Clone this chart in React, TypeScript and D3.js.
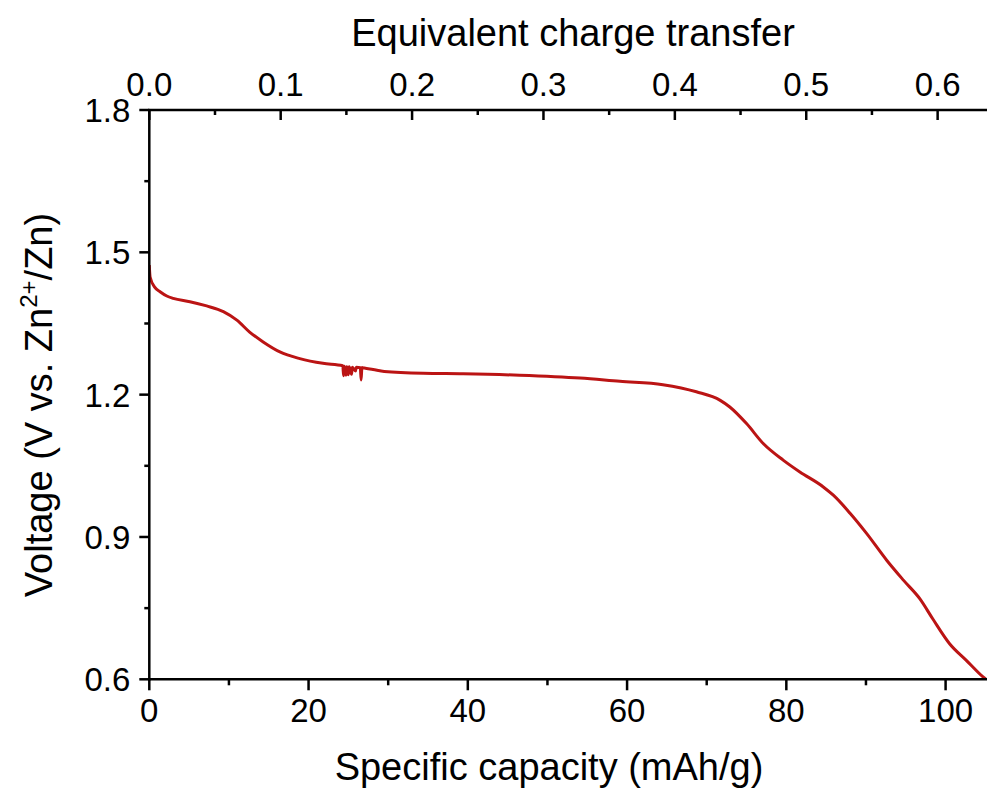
import React from 'react';
import * as d3 from 'd3';

// discharge curve
const capacity = [
  0, 0.1, 0.7, 1.35, 2.2, 3.0, 5.1, 7.2, 9.3, 11.0, 12.6, 14.3, 16.4, 18.9, 21.8,
  24.3, 24.4, 24.5, 24.7, 24.8, 25.0, 25.1, 25.4, 25.5, 25.9, 26.0, 26.5, 26.6, 26.7, 27.0,
  28.1, 29.5, 34.4, 39.4, 46.5, 54.1, 59.1, 64.5, 68.7, 71.7, 72.9, 75.0, 77.1, 79.6,
  81.7, 84.6, 85.9, 88.0, 90.1, 92.6, 94.7, 96.8, 98.4, 100.5, 102.6, 104.7, 105.2,
];
const voltage = [
  1.473, 1.448, 1.426, 1.417, 1.408, 1.403, 1.396, 1.387, 1.375, 1.357, 1.332, 1.311, 1.29, 1.276, 1.266,
  1.261, 1.240, 1.260, 1.241, 1.259, 1.242, 1.259, 1.243, 1.258, 1.250, 1.258, 1.257, 1.231, 1.257, 1.256,
  1.253, 1.249, 1.245, 1.244, 1.241, 1.235, 1.228, 1.221, 1.206, 1.188, 1.174, 1.139, 1.097, 1.062,
  1.037, 1.006, 0.988, 0.95, 0.907, 0.851, 0.809, 0.769, 0.727, 0.675, 0.64, 0.605, 0.598,
];

const bottomTicks = [0, 20, 40, 60, 80, 100];
const bottomMinor = [10, 30, 50, 70, 90];
const topTicks = [0.0, 0.1, 0.2, 0.3, 0.4, 0.5, 0.6];
const topMinor = [0.05, 0.15, 0.25, 0.35, 0.45, 0.55];
const leftTicks = [0.6, 0.9, 1.2, 1.5, 1.8];
const leftMinor = [0.75, 1.05, 1.35, 1.65];

const capMax = 105.2;
const mAhPerEquivalent = 165;

const W = 987;
const H = 791;
const font = '"Liberation Sans", Arial, sans-serif';

export default function App() {
  const left = 149.3;
  const top = 110;
  const bottom = 679.3;

  const x = d3.scaleLinear().domain([0, capMax]).range([left, W]);
  const xTop = d3.scaleLinear().domain([0, capMax / mAhPerEquivalent]).range([left, W]);
  const y = d3.scaleLinear().domain([0.6, 1.8]).range([bottom, top]);

  const pts: [number, number][] = capacity.map((c, i) => [c, voltage[i]]);
  const line = d3.line<[number, number]>()
    .x(d => x(d[0]))
    .y(d => y(d[1]))
    .curve(d3.curveMonotoneX);

  const axisStroke = 2.5;

  return (
    <svg width={W} height={H} style={{ position: 'absolute', left: 0, top: 0, background: '#fff' }}
      fontFamily={font}>
      <defs>
        <clipPath id="plot">
          <rect x={left} y={top} width={W - left} height={bottom - top} />
        </clipPath>
      </defs>

      <path d={line(pts) || ''} fill="none" stroke="#bb1414" strokeWidth={3}
        strokeLinejoin="round" clipPath="url(#plot)" />

      {/* axes lines */}
      <line x1={left} x2={left} y1={top} y2={bottom + axisStroke / 2} stroke="#000" strokeWidth={axisStroke} />
      <line x1={left - axisStroke / 2} x2={W} y1={top} y2={top} stroke="#000" strokeWidth={axisStroke} />
      <line x1={left - axisStroke / 2} x2={W} y1={bottom} y2={bottom} stroke="#000" strokeWidth={axisStroke} />

      {/* bottom axis */}
      {bottomTicks.map(t => (
        <g key={'b' + t}>
          <line x1={x(t)} x2={x(t)} y1={bottom} y2={bottom + 11} stroke="#000" strokeWidth={axisStroke} />
          <text x={x(t)} y={bottom + 43} textAnchor="middle" fontSize={33}>{t}</text>
        </g>
      ))}
      {bottomMinor.map(t => (
        <line key={'bm' + t} x1={x(t)} x2={x(t)} y1={bottom} y2={bottom + 6} stroke="#000" strokeWidth={axisStroke} />
      ))}

      {/* top axis */}
      {topTicks.map(t => (
        <g key={'t' + t}>
          <line x1={xTop(t)} x2={xTop(t)} y1={top} y2={top + 10} stroke="#000" strokeWidth={axisStroke} />
          <text x={xTop(t)} y={top - 14} textAnchor="middle" fontSize={33}>{t.toFixed(1)}</text>
        </g>
      ))}
      {topMinor.map(t => (
        <line key={'tm' + t} x1={xTop(t)} x2={xTop(t)} y1={top} y2={top + 5} stroke="#000" strokeWidth={axisStroke} />
      ))}

      {/* left axis */}
      {leftTicks.map(t => (
        <g key={'l' + t}>
          <line x1={left - 10} x2={left} y1={y(t)} y2={y(t)} stroke="#000" strokeWidth={axisStroke} />
          <text x={left - 19} y={y(t)} dy="0.36em" textAnchor="end" fontSize={33}>{t.toFixed(1)}</text>
        </g>
      ))}
      {leftMinor.map(t => (
        <line key={'lm' + t} x1={left - 5} x2={left} y1={y(t)} y2={y(t)} stroke="#000" strokeWidth={axisStroke} />
      ))}

      {/* titles */}
      <text x={549} y={780} textAnchor="middle" fontSize={38}>Specific capacity (mAh/g)</text>
      <text x={573} y={46} textAnchor="middle" fontSize={38}>Equivalent charge transfer</text>
      <text transform={`translate(52, 405) rotate(-90)`} textAnchor="middle" fontSize={38}>
        Voltage (V vs. Zn<tspan fontSize={24} dy={-15}>2+</tspan><tspan dy={15}>/Zn)</tspan>
      </text>
    </svg>
  );
}
